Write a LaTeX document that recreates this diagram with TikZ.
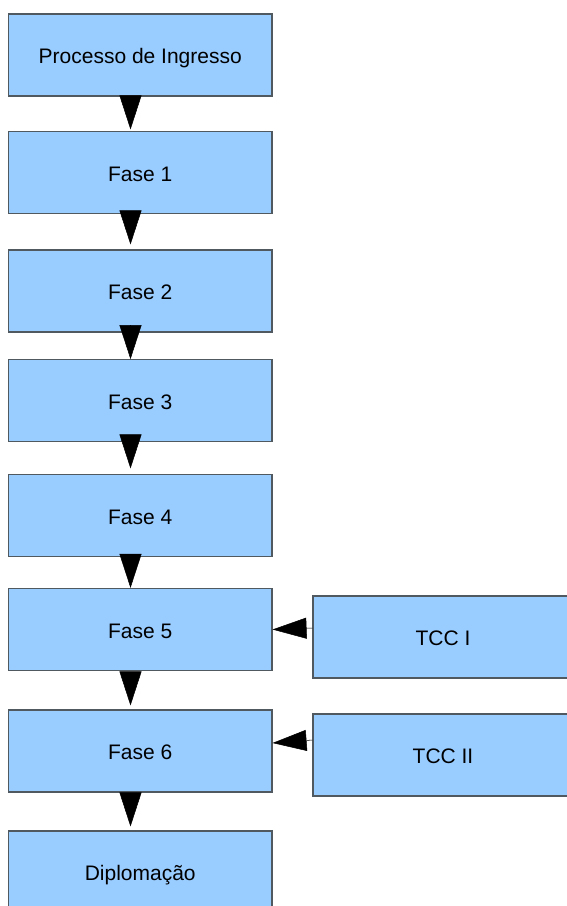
\documentclass[tikz,border=0pt]{standalone}
\usepackage{fontspec}
\setmainfont{Liberation Sans}
\usetikzlibrary{arrows.meta,calc}
\definecolor{boxfill}{HTML}{99CCFF}
\definecolor{boxline}{HTML}{505860}
\begin{document}
\begin{tikzpicture}[x=1bp,y=-1bp,
  stagebox/.style={draw=boxline,fill=boxfill,line width=1.1bp,minimum width=263.5bp,minimum height=82bp,inner sep=0pt,text height=17.5bp,text depth=0bp,font=\fontsize{21bp}{25bp}\selectfont,text=black},
  flowarrow/.style={draw=black,line width=0.5bp,-{Triangle[length=34bp,width=22bp]}},
  sidearrow/.style={draw=black,line width=0.5bp,-{Triangle[length=34bp,width=21bp]}}]
\useasboundingbox (0,0) rectangle (567,906);
\node[stagebox] (p) at (140.25,55) {Processo de Ingresso};
\node[stagebox] (f1) at (140.25,172.5) {Fase 1};
\node[stagebox] (f2) at (140.25,291) {Fase 2};
\node[stagebox] (f3) at (140.25,400.7) {Fase 3};
\node[stagebox] (f4) at (140.25,515.5) {Fase 4};
\node[stagebox] (f5) at (140.25,629.5) {Fase 5};
\node[stagebox] (f6) at (140.25,751) {Fase 6};
\node[stagebox] (d) at (140.25,872) {Diplomação};
\node[stagebox,minimum width=260bp] (t1) at (443,637) {TCC I};
\node[stagebox,minimum width=260bp] (t2) at (443,755) {TCC II};
\draw[flowarrow] ($(p.south)+(-9.75,0)$) -- ($(f1.north)+(-9.75,-1.5)$);
\draw[flowarrow] ($(f1.south)+(-9.75,0)$) -- ($(f2.north)+(-9.75,-5)$);
\draw[flowarrow] ($(f2.south)+(-9.75,0)$) -- ($(f3.north)+(-9.75,0)$);
\draw[flowarrow] ($(f3.south)+(-9.75,0)$) -- ($(f4.north)+(-9.75,-5.5)$);
\draw[flowarrow] ($(f4.south)+(-9.75,0)$) -- ($(f5.north)+(-9.75,0)$);
\draw[flowarrow] ($(f5.south)+(-9.75,2)$) -- ($(f6.north)+(-9.75,-4)$);
\draw[flowarrow] ($(f6.south)+(-9.75,2)$) -- ($(d.north)+(-9.75,-4)$);
\draw[sidearrow] (t1.west |- 0,628) -- (f5.east |- 0,629.5);
\draw[sidearrow] (t2.west |- 0,740) -- (f6.east |- 0,743);
\end{tikzpicture}
\end{document}
